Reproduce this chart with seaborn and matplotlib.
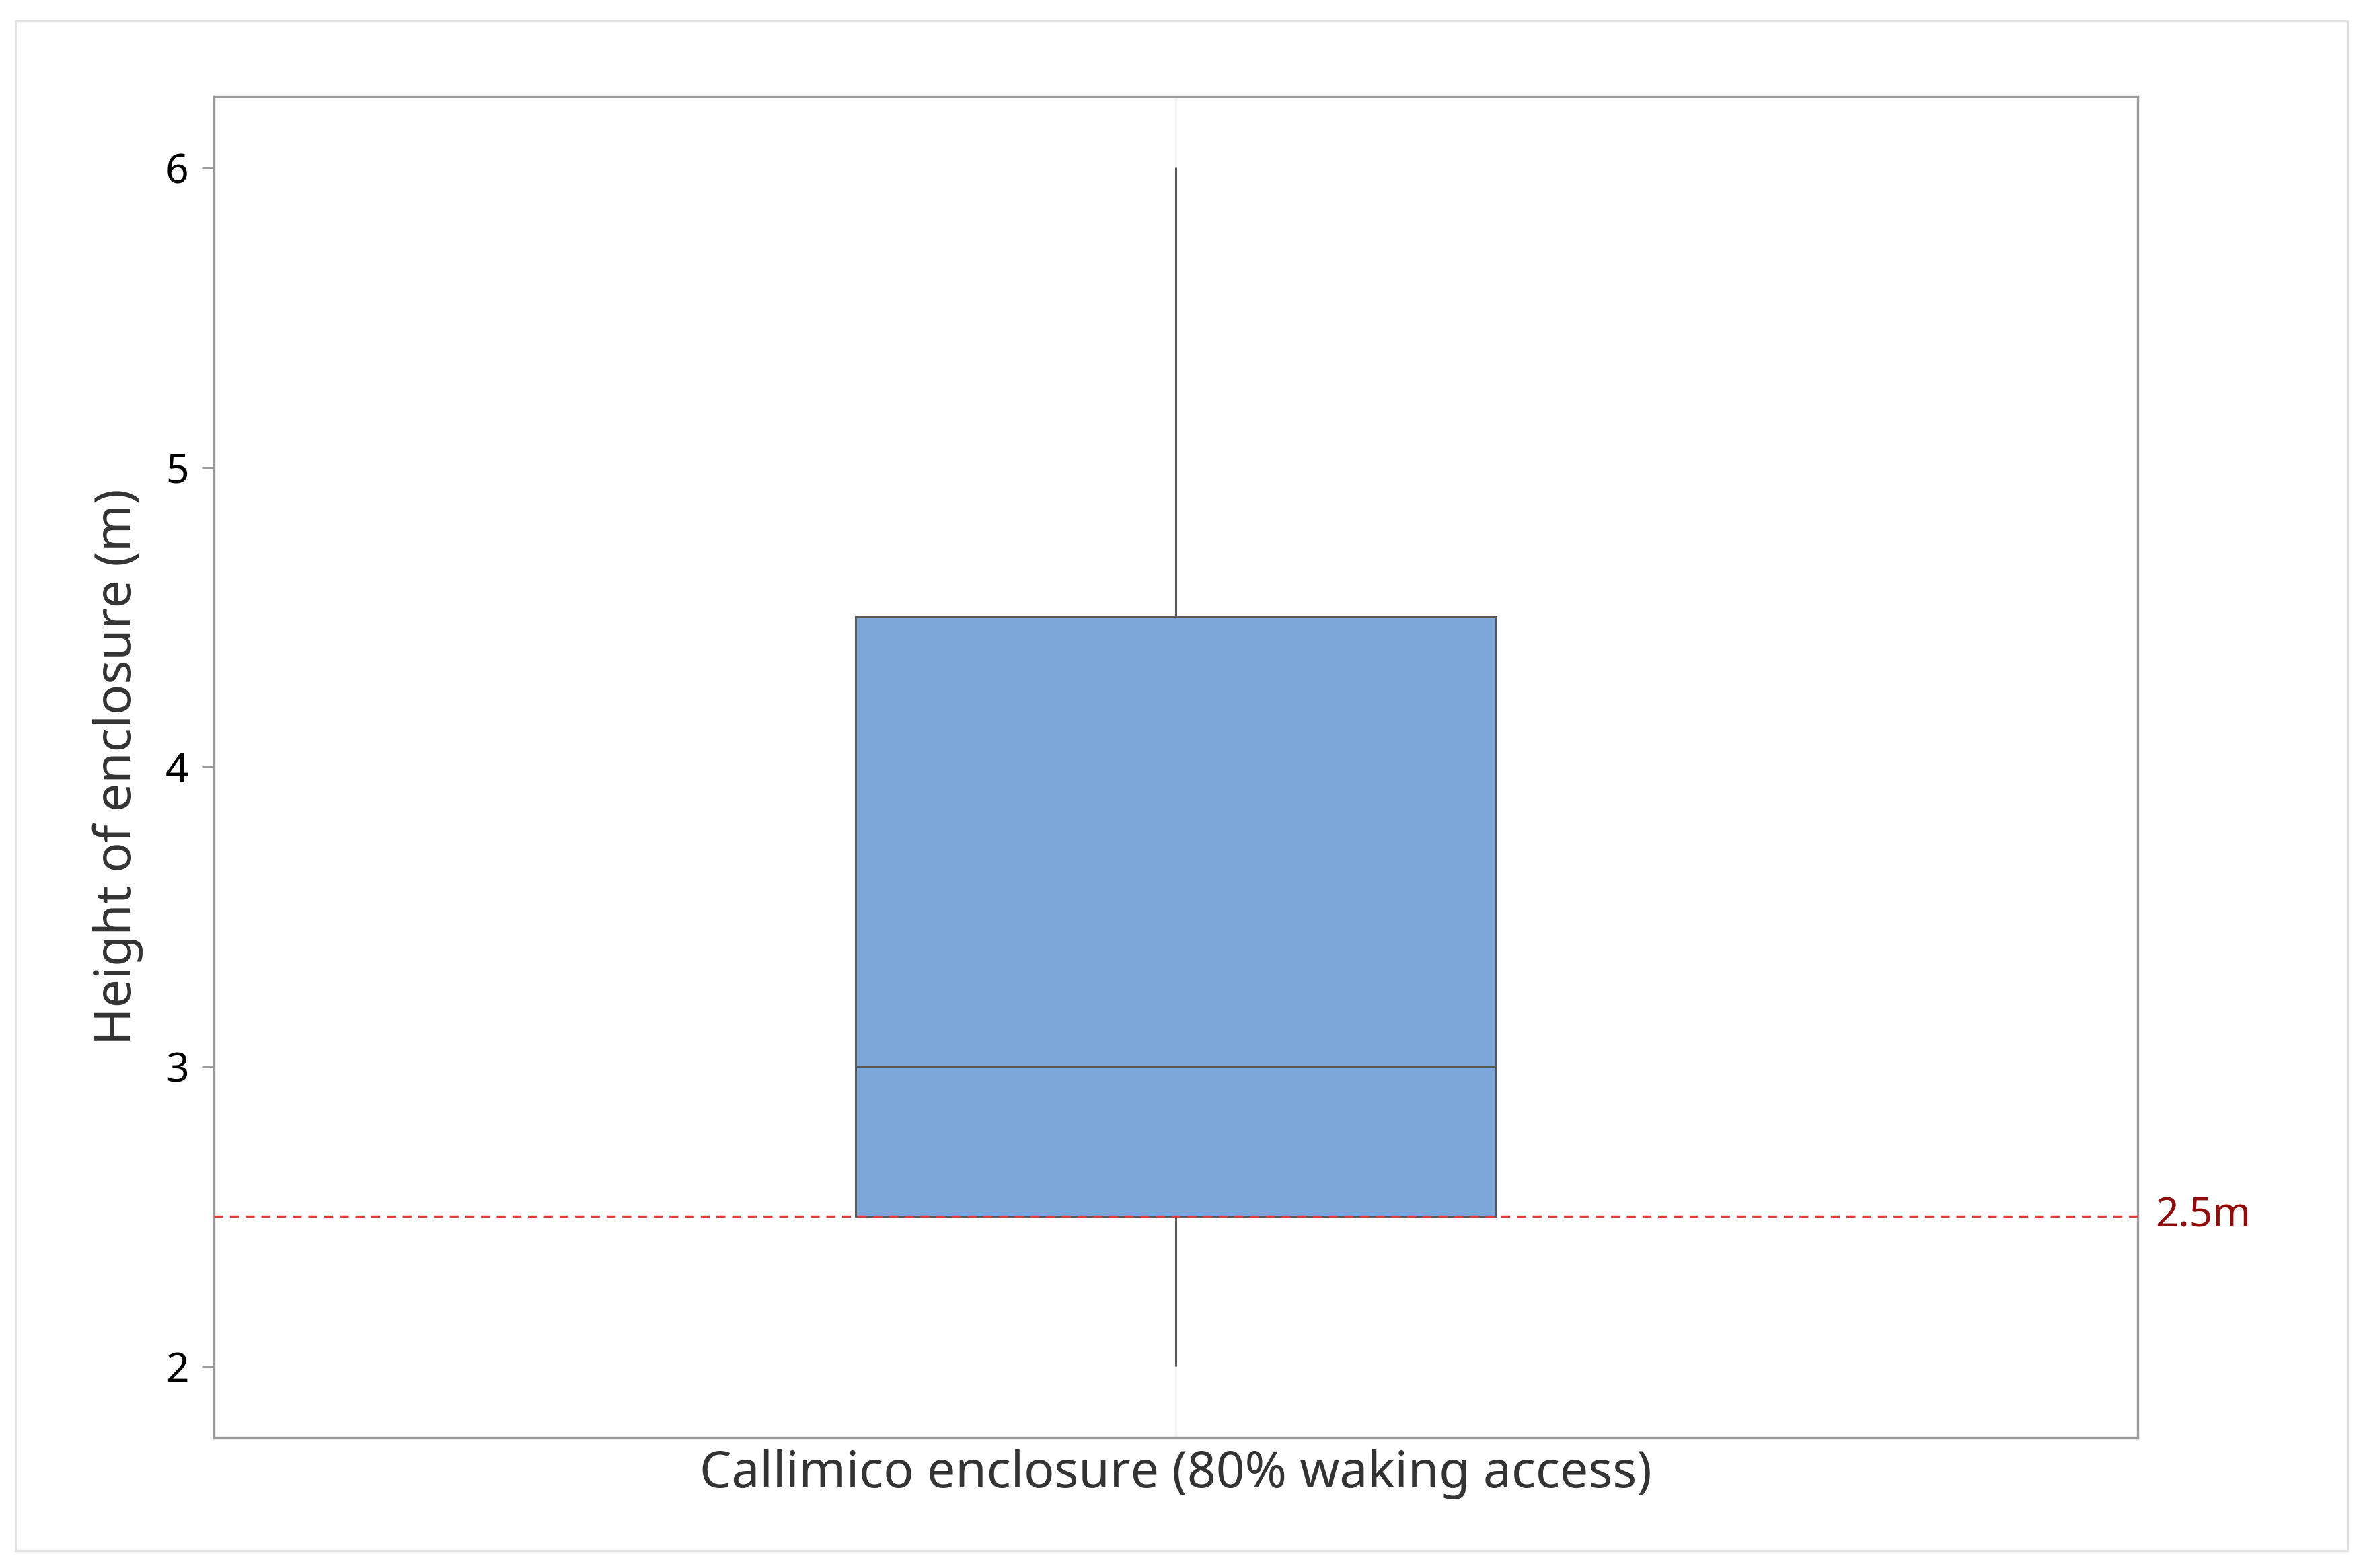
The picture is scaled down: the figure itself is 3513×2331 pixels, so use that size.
import numpy as np
import pandas as pd
import seaborn as sns
import matplotlib.pyplot as plt
from matplotlib.patches import Rectangle

# enclosure heights (m)
heights = [2.0, 2.5, 2.5, 3.0, 3.0, 3.0, 4.5, 5.0, 6.0]
group = "Callimico enclosure (80% waking access)"
threshold = 2.5
threshold_label = "2.5m"
y_ticks = [2, 3, 4, 5, 6]

df = pd.DataFrame({"group": [group] * len(heights), "height": heights})

sns.set_theme(style="white")
plt.rcParams["font.family"] = ["Noto Sans", "DejaVu Sans"]

fig = plt.figure(figsize=(3513 / 300, 2331 / 300), dpi=300)
ax = fig.add_axes([318 / 3513, 1 - 2137 / 2331, (3178 - 318) / 3513, (2137 - 143) / 2331])

# outer light frame
fig.patches.append(Rectangle((23 / 3513, 1 - 2305 / 2331), (3490 - 23) / 3513, (2305 - 31) / 2331,
                             transform=fig.transFigure, fill=False, edgecolor="#e3e3e3", linewidth=0.8))

sns.boxplot(data=df, x="group", y="height", ax=ax, width=0.333, color="#7ca7d8", saturation=1,
            linecolor="#555555", linewidth=0.7, whis=1.5, showcaps=False, fliersize=0)

ax.axhline(threshold, color="#e03c3c", linestyle=(0, (4, 3)), linewidth=0.8, zorder=5)
ax.text(1.009, threshold, threshold_label, transform=ax.get_yaxis_transform(), color="#8e0b0b",
        fontsize=14.5, va="center", ha="left")

ax.set_xlim(-0.5, 0.5)
ax.set_ylim(1.762, 6.238)
ax.set_yticks(y_ticks)
ax.set_yticklabels([str(t) for t in y_ticks])
ax.set_xticklabels([""])
ax.xaxis.grid(True, color="#f3f3f3", linewidth=0.8)
ax.set_axisbelow(True)

for s in ax.spines.values():
    s.set_color("#9a9a9a")
    s.set_linewidth(0.8)

ax.tick_params(axis="y", left=True, length=4, width=0.7, color="#9a9a9a", labelsize=14.5,
               labelcolor="black", pad=5)
ax.tick_params(axis="x", bottom=False, length=0, pad=0)

ax.set_xlabel(group, fontsize=18, color="#333333", labelpad=4)
ax.set_ylabel("Height of enclosure (m)", fontsize=18, color="#333333", labelpad=8)

plt.savefig("out.png", dpi=300)
